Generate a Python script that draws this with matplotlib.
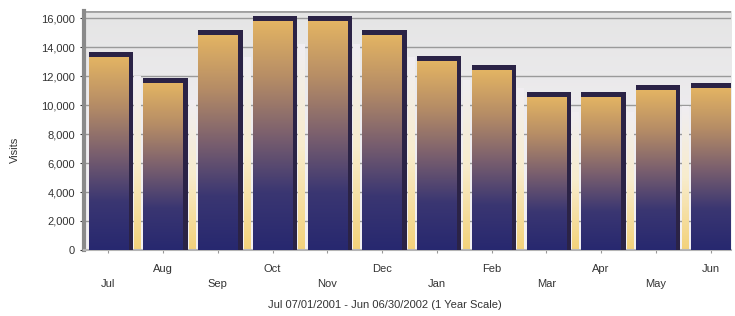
import numpy as np
import matplotlib
matplotlib.use('Agg')
import matplotlib.pyplot as plt
from matplotlib.colors import LinearSegmentedColormap
from matplotlib.patches import Rectangle

months = ['Jul', 'Aug', 'Sep', 'Oct', 'Nov', 'Dec', 'Jan', 'Feb', 'Mar', 'Apr', 'May', 'Jun']
visits = [13300, 11500, 14800, 15800, 15800, 14800, 13000, 12400, 10550, 10550, 11000, 11150]
yticks = [0, 2000, 4000, 6000, 8000, 10000, 12000, 14000, 16000]

plt.rcParams['font.family'] = ['Liberation Sans', 'DejaVu Sans']

fig = plt.figure(figsize=(7.35, 3.16), dpi=100)
ax = fig.add_axes([0.114, 0.209, 0.881, 0.756])
ax.set_xlim(-0.45, 11.38)
ax.set_ylim(0, 16500)

# background: grey at top, lighter lower down
bg = LinearSegmentedColormap.from_list('bg', ['#f3f1f4', '#efedf0', '#e5e5e5'])
ax.imshow(np.linspace(0, 1, 100).reshape(-1, 1), cmap=bg, aspect='auto',
          extent=[-0.45, 11.38, 0, 16500], origin='lower', zorder=0)
for t in yticks[1:]:
    ax.axhline(t, color='#9a9a9a', linewidth=1.0, zorder=1)

bar_cmap = LinearSegmentedColormap.from_list(
    'bar', ['#27286f', '#3a3672', '#7a5f6e', '#b58c66', '#e3b463'])
w = 0.72
side = 0.09
cap = 380
grad = np.linspace(0, 1, 256).reshape(-1, 1)
refl = LinearSegmentedColormap.from_list('refl', ['#f3d27a', '#f8eccd', '#f0eef2'])

for i, v in enumerate(visits):
    x0 = i - w / 2
    # pale reflection strip to the right
    ax.imshow(grad, cmap=refl, aspect='auto', origin='lower',
              extent=[x0 + w + side + 0.02, x0 + w + side + 0.13, 0, v * 0.9], zorder=2)
    # dark top cap and side
    ax.add_patch(Rectangle((x0, 0), w + side, v + cap, facecolor='#2b2346',
                           edgecolor='none', zorder=3))
    # gradient front face
    ax.imshow(grad, cmap=bar_cmap, aspect='auto', origin='lower',
              extent=[x0, x0 + w, 0, v], zorder=4, vmin=0, vmax=1)

ax.set_xlim(-0.45, 11.38)
ax.set_ylim(0, 16500)

ax.set_yticks(yticks)
ax.set_yticklabels([f'{t:,}' for t in yticks])
ax.set_xticks(range(len(months)))
ax.set_xticklabels(months)
ax.tick_params(axis='both', labelsize=8, colors='#333333', length=3)
ax.tick_params(axis='x', length=2, color='#999999')
for i, tick in enumerate(ax.xaxis.get_major_ticks()):
    tick.set_pad(19 if i % 2 == 0 else 8)

for s in ['top', 'right']:
    ax.spines[s].set_visible(False)
ax.spines['left'].set_color('#8a8a8a')
ax.spines['left'].set_linewidth(3)
ax.spines['bottom'].set_color('#b5b5b5')
ax.spines['bottom'].set_linewidth(1.5)
ax.axhline(16500, color='#a0a0a0', linewidth=2, zorder=1)

ax.set_ylabel('Visits', fontsize=8, color='#333333')
ax.yaxis.set_label_coords(-0.098, 0.42)
ax.set_xlabel('Jul 07/01/2001 - Jun 06/30/2002 (1 Year Scale)', fontsize=8,
              color='#333333')
ax.xaxis.set_label_coords(0.465, -0.21)

fig.savefig('out.png', dpi=100)
